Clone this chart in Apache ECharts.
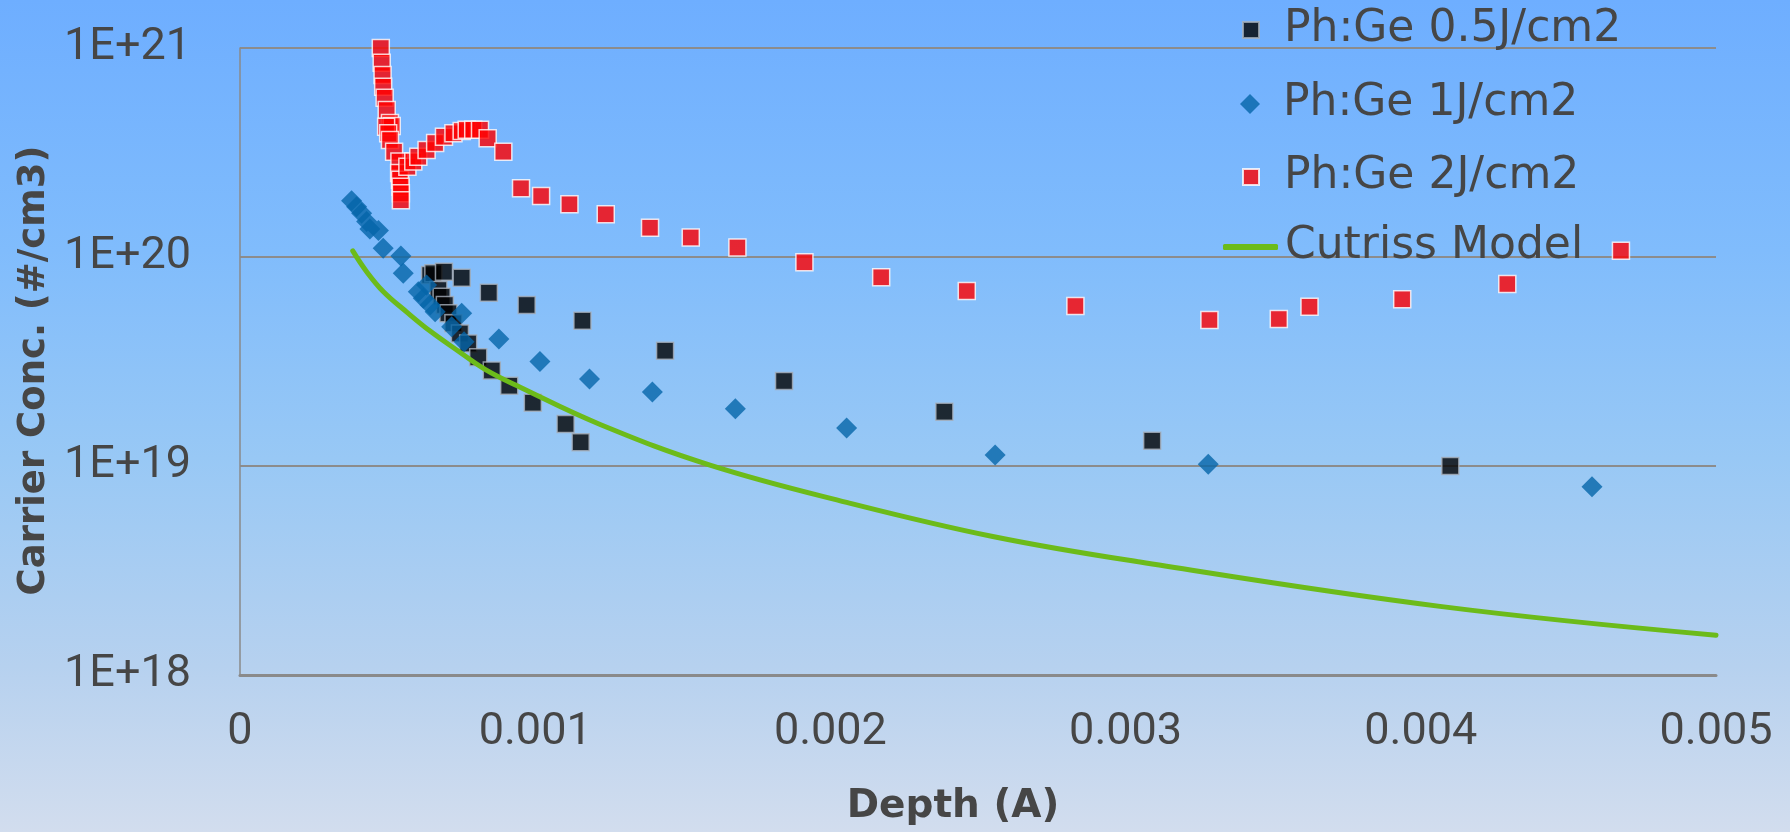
<!DOCTYPE html>
<html>
<head>
<meta charset="utf-8">
<title>Carrier Conc. vs Depth</title>
<script src="https://cdn.jsdelivr.net/npm/echarts@6/dist/echarts.min.js"></script>
<style>
  html, body { margin: 0; padding: 0; }
  #chart { width: 1790px; height: 832px; }
</style>
</head>
<body>
<div id="chart"></div>
<script>
// values: depth (A) and carrier conc. (#/cm3)
var depth05 = [0.000644, 0.000655, 0.000672, 0.000683, 0.000691, 0.000694, 0.000706, 0.000723, 0.000745, 0.000751,
               0.000773, 0.000807, 0.000843, 0.000853, 0.000912, 0.000971, 0.000992, 0.001103, 0.001154, 0.00116,
               0.00144, 0.001843, 0.002386, 0.00309, 0.0041];
var conc05 = [8.2e19, 8.36e19, 6.95e19, 6.46e19, 8.51e19, 5.89e19, 5.38e19, 4.82e19, 4.31e19, 7.96e19,
              3.86e19, 3.31e19, 6.75e19, 2.86e19, 2.42e19, 5.89e19, 2.01e19, 1.59e19, 1.30e19, 4.96e19,
              3.56e19, 2.55e19, 1.82e19, 1.32e19, 1.0e19];

var depth1 = [0.000378, 0.000395, 0.000412, 0.000429, 0.00044, 0.000469, 0.000485, 0.000545, 0.000553, 0.000604,
              0.000621, 0.000632, 0.000644, 0.000661, 0.000717, 0.000751, 0.000759, 0.000877, 0.001016, 0.001184,
              0.001397, 0.001678, 0.002055, 0.002558, 0.00328, 0.00458];
var conc1 = [1.86e20, 1.74e20, 1.62e20, 1.48e20, 1.36e20, 1.34e20, 1.10e20, 1.01e20, 8.36e19, 6.82e19,
             6.34e19, 7.35e19, 5.89e19, 5.47e19, 4.64e19, 5.38e19, 3.93e19, 4.05e19, 3.16e19, 2.61e19,
             2.26e19, 1.88e19, 1.52e19, 1.13e19, 1.02e19, 7.96e18];

var depth2 = [0.000477, 0.00048, 0.000483, 0.000485, 0.00049, 0.000497, 0.000508, 0.000514, 0.000495, 0.000502,
              0.000508, 0.000522, 0.00054, 0.000539, 0.000542, 0.000544, 0.000545, 0.000545, 0.000567, 0.000587,
              0.000604, 0.000632, 0.000661, 0.000691, 0.000723, 0.000751, 0.000768, 0.00079, 0.000813, 0.000839,
              0.000892, 0.000952, 0.00102, 0.001116, 0.001239, 0.001389, 0.001527, 0.001685, 0.001912, 0.002172,
              0.002462, 0.00283, 0.003284, 0.003519, 0.003623, 0.003937, 0.004293, 0.004678];
var conc2 = [1.0e21, 8.5e20, 7.43e20, 6.53e20, 5.78e20, 5.05e20, 4.38e20, 4.24e20, 4.2e20, 3.91e20,
             3.63e20, 3.19e20, 2.86e20, 2.52e20, 2.34e20, 2.17e20, 2.02e20, 1.87e20, 2.70e20, 2.86e20,
             3.02e20, 3.25e20, 3.51e20, 3.76e20, 3.91e20, 4.01e20, 4.06e20, 4.06e20, 4.06e20, 3.70e20,
             3.19e20, 2.13e20, 1.96e20, 1.79e20, 1.60e20, 1.38e20, 1.24e20, 1.11e20, 9.44e19, 7.99e19,
             6.88e19, 5.83e19, 5.0e19, 5.05e19, 5.78e19, 6.28e19, 7.43e19, 1.07e20];

var modelDepth = [0.000382, 0.000429, 0.000486, 0.000565, 0.000644, 0.000734, 0.00083, 0.000949,
                  0.00122, 0.001592, 0.002055, 0.00255, 0.003049, 0.004065, 0.005];
var modelConc = [1.07e20, 8.51e19, 6.82e19, 5.45e19, 4.42e19, 3.59e19, 2.9e19, 2.38e19,
                 1.58e19, 1.01e19, 6.7e18, 4.6e18, 3.47e18, 2.13e18, 1.55e18];

var seriesNames = ['Ph:Ge 0.5J/cm2', 'Ph:Ge 1J/cm2', 'Ph:Ge 2J/cm2', 'Cutriss Model'];
var xTickLabels = ['0', '0.001', '0.002', '0.003', '0.004', '0.005'];
var yTickLabels = ['1E+18', '1E+19', '1E+20', '1E+21'];

function pairs(xs, ys) {
    return xs.map(function (x, i) { return [x, ys[i]]; });
}

var textColor = '#464646';
var tickFont = 'Roboto';

function legendFor(name, top, left, w, h, pad, icon) {
    var lg = {
        data: [name],
        left: left,
        top: top,
        itemWidth: w,
        itemHeight: h,
        selectedMode: false,
        textStyle: {
            fontFamily: 'DejaVu Sans',
            fontSize: 44,
            color: textColor,
            padding: [0, 0, 0, pad]
        }
    };
    if (icon) lg.icon = icon;
    return lg;
}

var chart = echarts.init(document.getElementById('chart'));
var option = {
    animation: false,
    backgroundColor: {
        type: 'linear', x: 0, y: 0, x2: 0, y2: 1,
        colorStops: [
            { offset: 0, color: '#6eaeff' },
            { offset: 0.3, color: '#80bcfc' },
            { offset: 0.55, color: '#98c8f5' },
            { offset: 0.8, color: '#b6d1ef' },
            { offset: 1, color: '#d2ddee' }
        ]
    },
    grid: { left: 240, right: 74, top: 48, bottom: 157 },
    legend: [
        legendFor(seriesNames[0], 3, 1237, 16, 16, 20),
        legendFor(seriesNames[1], 77, 1235, 20, 20, 18),
        legendFor(seriesNames[2], 150, 1237, 16, 16, 20),
        legendFor(seriesNames[3], 220, 1218, 55, 6, 2, 'roundRect')
    ],
    xAxis: {
        type: 'value',
        min: 0,
        max: 0.005,
        interval: 0.001,
        name: 'Depth (A)',
        nameLocation: 'middle',
        nameGap: 112,
        nameTextStyle: {
            fontFamily: 'DejaVu Sans', fontWeight: 'bold', fontSize: 39, color: textColor,
            padding: [0, 50, 0, 0]
        },
        axisLine: { show: true, lineStyle: { color: '#8a8a8a', width: 3 } },
        axisTick: { show: false },
        splitLine: { show: false },
        axisLabel: {
            margin: 35,
            fontFamily: tickFont,
            fontSize: 45,
            color: textColor,
            formatter: function (v) { return xTickLabels[Math.round(v / 0.001)]; }
        }
    },
    yAxis: {
        type: 'log',
        logBase: 10,
        min: 1e18,
        max: 1e21,
        name: 'Carrier Conc. (#/cm3)',
        nameLocation: 'middle',
        nameGap: 182,
        nameTextStyle: {
            fontFamily: 'DejaVu Sans', fontWeight: 'bold', fontSize: 37, color: textColor,
            padding: [0, 18, 0, 0]
        },
        axisLine: { show: true, lineStyle: { color: '#8a8a8a', width: 1.5 } },
        axisTick: { show: false },
        splitLine: { show: true, lineStyle: { color: '#8c8c8c', width: 2 } },
        axisLabel: {
            margin: 49,
            fontFamily: tickFont,
            fontSize: 45,
            color: textColor,
            formatter: function (v) { return yTickLabels[Math.round(Math.log10(v)) - 18]; }
        }
    },
    series: [
        {
            name: seriesNames[3],
            type: 'line',
            data: pairs(modelDepth, modelConc),
            smooth: 0.4,
            symbol: 'none',
            lineStyle: { color: '#6cbb1a', width: 5, cap: 'round', join: 'round' },
            itemStyle: { color: '#6cbb1a' }
        },
        {
            name: seriesNames[0],
            type: 'scatter',
            data: pairs(depth05, conc05),
            symbol: 'rect',
            symbolSize: 17,
            clip: false,
            itemStyle: { color: '#000000', borderColor: '#a8b0bc', borderWidth: 1.5 }
        },
        {
            name: seriesNames[1],
            type: 'scatter',
            data: pairs(depth1, conc1),
            symbol: 'diamond',
            symbolSize: 21,
            clip: false,
            itemStyle: { color: '#0565a9' }
        },
        {
            name: seriesNames[2],
            type: 'scatter',
            data: pairs(depth2, conc2),
            symbol: 'rect',
            symbolSize: 17,
            clip: false,
            itemStyle: { color: '#ff0000', borderColor: '#ffffff', borderWidth: 1.5 }
        }
    ]
};
chart.setOption(option);
</script>
</body>
</html>
